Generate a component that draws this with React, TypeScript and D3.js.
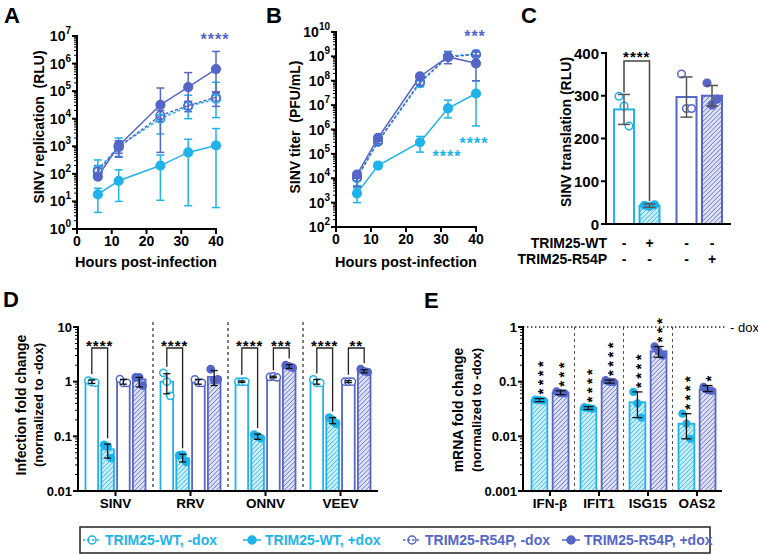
import React from 'react';
import * as d3 from 'd3';

const LIGHT = '#1FB3EA';
const DARK = '#5566C8';
const FONT = "'Liberation Sans', Arial, Helvetica, sans-serif";

// ---------- Panels A & B: time course ----------
const hours = [6, 12, 24, 32, 40];
const xTicks = [0, 10, 20, 30, 40];
const legendLabels = ['TRIM25-WT, -dox', 'TRIM25-WT, +dox', 'TRIM25-R54P, -dox', 'TRIM25-R54P, +dox'];

// A: SINV replication (RLU)
const aWTminus = [140, 1000, 10000, 28000, 52000];
const aWTminusLo = [71, 430, 2800, 10000, 11000];
const aWTminusHi = [320, 2000, 35000, 71000, 210000];
const aWTplus = [18, 56, 200, 600, 1070];
const aWTplusLo = [4, 10, 11, 7, 6];
const aWTplusHi = [30, 140, 480, 1800, 4400];
const aR54Pminus = [120, 930, 13000, 30000, 60000];
const aR54PminusLo = [90, 400, 8000, 18000, 28000];
const aR54PminusHi = [200, 1400, 20000, 42000, 89000];
const aR54Pplus = [80, 1050, 32000, 140000, 630000];
const aR54PplusLo = [63, 560, 600, 42000, 95000];
const aR54PplusHi = [110, 1600, 130000, 470000, 2750000];

// B: SINV titer (PFU/mL)
const bWTminus = [10000, 320000, 8e7, 1e9, 1.25e9];
const bWTminusLo = [5000, 250000, 5.6e7, 7e8, 1e9];
const bWTminusHi = [16000, 400000, 1e8, 1.25e9, 1.6e9];
const bWTplus = [2400, 33000, 300000, 7.4e6, 3e7];
const bWTplusLo = [1000, 26000, 118000, 3e6, 1.4e6];
const bWTplusHi = [4000, 45000, 520000, 1.6e7, 1e8];
const bR54Pminus = [11000, 320000, 9e7, 9.5e8, 1.2e9];
const bR54PminusLo = [4500, 260000, 6.5e7, 7e8, 1e9];
const bR54PminusHi = [16000, 400000, 1.1e8, 1.3e9, 1.5e9];
const bR54Pplus = [14000, 450000, 1.5e8, 9.5e8, 5.2e8];
const bR54PplusLo = [10000, 350000, 1.1e8, 5e8, 1e8];
const bR54PplusHi = [18000, 560000, 1.8e8, 1.6e9, 1.1e9];

// ---------- Panel C ----------
const cBars = [268, 43, 297, 300];
const cErr = [35, 4, 47, 24];
const cPts = [[299, 276, 229], [44, 41, 45], [351, 270, 270], [330, 278, 292]];
const cTicks = [0, 100, 200, 300, 400];
const cRowWT = ['-', '+', '-', '-'];
const cRowR54P = ['-', '-', '-', '+'];

// ---------- Panel D ----------
const dCats = ['SINV', 'RRV', 'ONNV', 'VEEV'];
const dWTminus = [1.0, 1.0, 1.0, 1.0];
const dWTminusLo = [0.93, 0.6, 0.97, 0.9];
const dWTminusHi = [1.07, 1.4, 1.03, 1.1];
const dWTplus = [0.058, 0.04, 0.098, 0.195];
const dWTplusLo = [0.04, 0.034, 0.088, 0.17];
const dWTplusHi = [0.072, 0.047, 0.11, 0.22];
const dR54Pminus = [1.0, 1.0, 1.22, 1.0];
const dR54PminusLo = [0.9, 0.9, 1.18, 0.96];
const dR54PminusHi = [1.1, 1.1, 1.26, 1.04];
const dR54Pplus = [1.1, 1.22, 1.9, 1.55];
const dR54PplusLo = [0.8, 0.85, 1.75, 1.45];
const dR54PplusHi = [1.2, 1.6, 2.05, 1.65];
const dPtsWTminus = [[1.05, 0.98, 0.96], [1.45, 1.0, 0.55], [1.0, 1.0, 1.0], [1.1, 0.95, 0.95]];
const dPtsWTplus = [[0.07, 0.065, 0.04], [0.045, 0.046, 0.034], [0.108, 0.1, 0.092], [0.22, 0.2, 0.17]];
const dPtsR54Pminus = [[1.12, 0.95, 0.95], [1.1, 0.95, 0.95], [1.22, 1.25, 1.2], [1.0, 1.0, 1.0]];
const dPtsR54Pplus = [[1.2, 1.2, 0.85], [1.7, 1.05, 1.1], [2.0, 1.9, 1.8], [1.7, 1.55, 1.5]];
const dSigCat = [0, 1, 2, 2, 3, 3];
const dSigA = [0, 0, 0, 2, 0, 2];
const dSigB = [1, 1, 1, 3, 1, 3];
const dSigLabel = ['****', '****', '****', '***', '****', '**'];

// ---------- Panel E ----------
const eCats = ['IFN-β', 'IFIT1', 'ISG15', 'OAS2'];
const eWT = [0.046, 0.033, 0.042, 0.017];
const eWTLo = [0.043, 0.031, 0.022, 0.009];
const eWTHi = [0.049, 0.035, 0.065, 0.026];
const eR54P = [0.063, 0.1, 0.36, 0.072];
const eR54PLo = [0.058, 0.094, 0.28, 0.066];
const eR54PHi = [0.068, 0.107, 0.44, 0.085];
const ePtsWT = [[0.047, 0.046, 0.045], [0.034, 0.033, 0.032], [0.065, 0.04, 0.022], [0.026, 0.017, 0.009]];
const ePtsR54P = [[0.066, 0.062, 0.061], [0.106, 0.1, 0.098], [0.44, 0.36, 0.3], [0.08, 0.07, 0.068]];
const eSigWT = ['****', '****', '****', '****'];
const eSigR54P = ['***', '****', '***', '*'];

const STYLE = [
  { color: LIGHT, filled: false, fill: '#fff' },
  { color: LIGHT, filled: true, fill: 'url(#hatchL)' },
  { color: DARK, filled: false, fill: '#fff' },
  { color: DARK, filled: true, fill: 'url(#hatchD)' },
];

function logTicks(lo: number, hi: number) {
  const major: number[] = [];
  const minor: number[] = [];
  const e0 = Math.round(Math.log10(lo));
  const e1 = Math.round(Math.log10(hi));
  for (let e = e0; e <= e1; e++) {
    major.push(e);
    if (e < e1) for (let k = 2; k <= 9; k++) minor.push(k * Math.pow(10, e));
  }
  return { major, minor };
}

function YAxisLog({ y, x, fmt }: any) {
  const [lo, hi] = y.domain();
  const { major, minor } = logTicks(lo, hi);
  const [r0, r1] = y.range();
  return (
    <g>
      <line x1={x} x2={x} y1={r0 + 1} y2={r1 - 1} stroke="#000" strokeWidth={2} />
      {minor.map((v: number) => (
        <line key={'m' + v} x1={x - 3} x2={x} y1={y(v)} y2={y(v)} stroke="#000" strokeWidth={1} />
      ))}
      {major.map((e: number) => (
        <g key={e}>
          <line x1={x - 5} x2={x} y1={y(Math.pow(10, e))} y2={y(Math.pow(10, e))} stroke="#000" strokeWidth={2} />
          {fmt(e, x - 6, y(Math.pow(10, e)))}
        </g>
      ))}
    </g>
  );
}

const supFmt = (e: number, tx: number, ty: number) => (
  <text x={tx} y={ty + 5} textAnchor="end" fontSize={14} fontWeight="bold">
    <tspan>10</tspan>
    <tspan dy={-7} fontSize={10}>{e}</tspan>
  </text>
);
const decFmt = (e: number, tx: number, ty: number) => (
  <text x={tx} y={ty + 4.5} textAnchor="end" fontSize={13} fontWeight="bold">
    {e >= 0 ? String(Math.pow(10, e)) : Math.pow(10, e).toFixed(-e)}
  </text>
);

function TimeCourse({ x, y, means, los, his }: any) {
  const line = d3.line<number>().x((_, i) => x(hours[i])).y((d) => y(d));
  const [y0] = y.range();
  return (
    <g>
      <line x1={x(0) - 1} x2={x(40) + 1} y1={y0} y2={y0} stroke="#000" strokeWidth={2} />
      {xTicks.map((t) => (
        <g key={t}>
          <line x1={x(t)} x2={x(t)} y1={y0} y2={y0 + 5} stroke="#000" strokeWidth={2} />
          <text x={x(t)} y={y0 + 17} textAnchor="middle" fontSize={14} fontWeight="bold">{t}</text>
        </g>
      ))}
      {means.map((m: number[], s: number) => (
        <path key={'l' + s} d={line(m) || ''} fill="none" stroke={STYLE[s].color} strokeWidth={1.5}
          strokeDasharray={STYLE[s].filled ? undefined : '3,2'} />
      ))}
      {means.map((m: number[], s: number) =>
        m.map((_, i) => {
          const cx = x(hours[i]);
          const yl = y(los[s][i]);
          const yh = y(his[s][i]);
          return (
            <g key={'e' + s + i} stroke={STYLE[s].color} strokeWidth={1.5}>
              <line x1={cx} x2={cx} y1={yl} y2={yh} />
              <line x1={cx - 4} x2={cx + 4} y1={yl} y2={yl} />
              <line x1={cx - 4} x2={cx + 4} y1={yh} y2={yh} />
            </g>
          );
        })
      )}
      {means.map((m: number[], s: number) =>
        m.map((v, i) => (
          <circle key={'c' + s + i} cx={x(hours[i])} cy={y(v)} r={4.3}
            fill={STYLE[s].filled ? STYLE[s].color : 'none'} stroke={STYLE[s].color} strokeWidth={1.6} />
        ))
      )}
    </g>
  );
}

function Stars({ x, y, label, color, size = 15 }: any) {
  return (
    <text x={x} y={y + size * 0.56} textAnchor="middle" fontSize={size} fontWeight="bold" fill={color} letterSpacing={1}>
      {label}
    </text>
  );
}

// vertical stack of stars, read bottom-to-top, bottom at yBottom, centred on x
function StarStack({ x, yBottom, label, size = 15 }: any) {
  return (
    <text transform={`translate(${x + size * 0.56},${yBottom}) rotate(-90)`} fontSize={size} fontWeight="bold"
      letterSpacing={3.4} fill="#000">
      {label}
    </text>
  );
}

export default function App() {
  // A
  const ax = d3.scaleLinear().domain([0, 40]).range([77, 216]);
  const ay = d3.scaleLog().domain([1, 1e7]).range([229, 36]);
  // B
  const bx = d3.scaleLinear().domain([0, 40]).range([336, 476]);
  const by = d3.scaleLog().domain([1e2, 1e10]).range([227, 32]);
  // C
  const cy = d3.scaleLinear().domain([0, 400]).range([224, 53]);
  const cSlot = (i: number) => i + (i >= 2 ? 0.45 : 0);
  const cx = d3.scaleLinear().domain([0, cSlot(3)]).range([624, 712]);
  const cbw = 20;
  // D
  const dx0 = d3.scaleBand<string>().domain(dCats).range([78, 378]);
  const dx1 = d3.scaleBand<number>().domain([0, 1, 2, 3]).range([7.5, 67.5]).paddingInner(0.2);
  const dy = d3.scaleLog().domain([0.01, 10]).range([491, 327]);
  const dMeans = [dWTminus, dWTplus, dR54Pminus, dR54Pplus];
  const dLos = [dWTminusLo, dWTplusLo, dR54PminusLo, dR54PplusLo];
  const dHis = [dWTminusHi, dWTplusHi, dR54PminusHi, dR54PplusHi];
  const dPts = [dPtsWTminus, dPtsWTplus, dPtsR54Pminus, dPtsR54Pplus];
  // E
  const ex0 = d3.scaleBand<string>().domain(eCats).range([525.5, 721.5]);
  const ex1 = d3.scaleBand<number>().domain([0, 1]).range([6, 43]).paddingInner(0.25);
  const ey = d3.scaleLog().domain([0.001, 1]).range([491, 327]);
  const eMeans = [eWT, eR54P];
  const eLos = [eWTLo, eR54PLo];
  const eHis = [eWTHi, eR54PHi];
  const ePts = [ePtsWT, ePtsR54P];
  const eSig = [eSigWT, eSigR54P];
  const eStyle = [STYLE[1], STYLE[3]];

  const dBarX = (ci: number, s: number) => (dx0(dCats[ci]) as number) + (dx1(s) as number);
  const dCenter = (ci: number, s: number) => dBarX(ci, s) + dx1.bandwidth() / 2;
  const dTop = (ci: number, s: number) => dy(Math.max(dHis[s][ci], ...dPts[s][ci]));

  const legendSym = [92, 252, 412, 571];

  return (
    <svg width={758} height={555} viewBox="0 0 758 555" fontFamily={FONT}
      style={{ position: 'absolute', left: 0, top: 0, background: '#fff' }}>
      <defs>
        <pattern id="hatchL" patternUnits="userSpaceOnUse" width={3.2} height={3.2} patternTransform="rotate(45)">
          <rect width={3.2} height={3.2} fill={LIGHT} fillOpacity={0.22} />
          <line x1={0} y1={0} x2={0} y2={3.2} stroke={LIGHT} strokeWidth={1.3} />
        </pattern>
        <pattern id="hatchD" patternUnits="userSpaceOnUse" width={3.2} height={3.2} patternTransform="rotate(45)">
          <rect width={3.2} height={3.2} fill={DARK} fillOpacity={0.18} />
          <line x1={0} y1={0} x2={0} y2={3.2} stroke={DARK} strokeWidth={1.3} />
        </pattern>
      </defs>
      <rect width={758} height={555} fill="#fff" />

      {/* Panel letters */}
      {[['A', 4, 23], ['B', 266, 23], ['C', 521, 23], ['D', 3, 307], ['E', 424, 308]].map(([t, x, y]) => (
        <text key={t as string} x={x as number} y={y as number} fontSize={22} fontWeight="bold">{t}</text>
      ))}

      {/* ===== Panel A ===== */}
      <YAxisLog y={ay} x={77} fmt={supFmt} />
      <TimeCourse x={ax} y={ay}
        means={[aWTminus, aWTplus, aR54Pminus, aR54Pplus]}
        los={[aWTminusLo, aWTplusLo, aR54PminusLo, aR54PplusLo]}
        his={[aWTminusHi, aWTplusHi, aR54PminusHi, aR54PplusHi]} />
      <text transform="translate(39,127) rotate(-90)" textAnchor="middle" dominantBaseline="central" fontSize={14} fontWeight="bold" xmlSpace="preserve">SINV replication  (RLU)</text>
      <text x={146} y={267} textAnchor="middle" fontSize={14.5} fontWeight="bold">Hours post-infection</text>
      <Stars x={215} y={36} label="****" color={DARK} size={16} />

      {/* ===== Panel B ===== */}
      <YAxisLog y={by} x={336} fmt={supFmt} />
      <TimeCourse x={bx} y={by}
        means={[bWTminus, bWTplus, bR54Pminus, bR54Pplus]}
        los={[bWTminusLo, bWTplusLo, bR54PminusLo, bR54PplusLo]}
        his={[bWTminusHi, bWTplusHi, bR54PminusHi, bR54PplusHi]} />
      <text transform="translate(295,127) rotate(-90)" textAnchor="middle" dominantBaseline="central" fontSize={14} fontWeight="bold" xmlSpace="preserve">SINV titer  (PFU/mL)</text>
      <text x={406} y={267} textAnchor="middle" fontSize={14.5} fontWeight="bold">Hours post-infection</text>
      <Stars x={475} y={33} label="***" color={DARK} size={16} />
      <Stars x={474} y={140} label="****" color={LIGHT} size={16} />
      <Stars x={447} y={153} label="****" color={LIGHT} size={16} />

      {/* ===== Panel C ===== */}
      {cBars.map((v, i) => {
        const c = cx(cSlot(i));
        const st = STYLE[i];
        return (
          <g key={'cb' + i}>
            <rect x={c - cbw / 2} y={cy(v)} width={cbw} height={cy(0) - cy(v)} fill={st.fill} stroke={st.color} strokeWidth={2} />
            {cPts[i].map((p, j) => (
              <circle key={j} cx={c + (j - 1) * 5} cy={cy(p)} r={3.8} fill={st.filled ? st.color : '#fff'} stroke={st.color} strokeWidth={1.5} />
            ))}
            <g stroke="#555" strokeWidth={1.5}>
              <line x1={c} x2={c} y1={cy(v - cErr[i])} y2={cy(v + cErr[i])} />
              <line x1={c - 6} x2={c + 6} y1={cy(v - cErr[i])} y2={cy(v - cErr[i])} />
              <line x1={c - 6} x2={c + 6} y1={cy(v + cErr[i])} y2={cy(v + cErr[i])} />
            </g>
            <text x={c} y={248} textAnchor="middle" fontSize={14} fontWeight="bold">{cRowWT[i]}</text>
            <text x={c} y={264} textAnchor="middle" fontSize={14} fontWeight="bold">{cRowR54P[i]}</text>
          </g>
        );
      })}
      <line x1={606} x2={606} y1={cy(0) + 1} y2={cy(400) - 1} stroke="#000" strokeWidth={2} />
      <line x1={605} x2={731} y1={cy(0)} y2={cy(0)} stroke="#000" strokeWidth={2} />
      {cTicks.map((t) => (
        <g key={'ct' + t}>
          <line x1={601} x2={606} y1={cy(t)} y2={cy(t)} stroke="#000" strokeWidth={2} />
          <text x={599} y={cy(t) + 5.5} textAnchor="end" fontSize={15} fontWeight="bold">{t}</text>
        </g>
      ))}
      <path d={`M${cx(0)},${cy(cBars[0] + cErr[0]) - 2}V61H${cx(1)}V${cy(cBars[1] + cErr[1]) - 3}`} fill="none" stroke="#444" strokeWidth={1.5} />
      <Stars x={(cx(0) + cx(1)) / 2} y={54} label="****" color="#000" size={15} />
      <text x={607} y={248} textAnchor="end" fontSize={14} fontWeight="bold">TRIM25-WT</text>
      <text x={607} y={264} textAnchor="end" fontSize={14} fontWeight="bold">TRIM25-R54P</text>
      <text transform="translate(566,132) rotate(-90)" textAnchor="middle" dominantBaseline="central" fontSize={14} fontWeight="bold">SINV translation (RLU)</text>

      {/* ===== Panel D ===== */}
      {dCats.map((cat, ci) =>
        [0, 1, 2, 3].map((s) => {
          const x0 = dBarX(ci, s);
          const c = dCenter(ci, s);
          const v = dMeans[s][ci];
          const st = STYLE[s];
          return (
            <g key={'d' + ci + s}>
              <rect x={x0} y={dy(v)} width={dx1.bandwidth()} height={dy(0.01) - dy(v)} fill={st.fill} stroke={st.color} strokeWidth={1.8} />
              {dPts[s][ci].map((p, j) => (
                <circle key={j} cx={c + (j - 1) * 3.5} cy={dy(p)} r={3.6} fill={st.filled ? st.color : '#fff'} stroke={st.color} strokeWidth={1.5} />
              ))}
              <g stroke="#111" strokeWidth={1.3}>
                <line x1={c} x2={c} y1={dy(dLos[s][ci])} y2={dy(dHis[s][ci])} />
                <line x1={c - 3.5} x2={c + 3.5} y1={dy(dLos[s][ci])} y2={dy(dLos[s][ci])} />
                <line x1={c - 3.5} x2={c + 3.5} y1={dy(dHis[s][ci])} y2={dy(dHis[s][ci])} />
              </g>
            </g>
          );
        })
      )}
      {dCats.slice(1).map((cat) => (
        <line key={'dv' + cat} x1={dx0(cat)} x2={dx0(cat)} y1={322} y2={491} stroke="#000" strokeWidth={1} strokeDasharray="3,3" />
      ))}
      <YAxisLog y={dy} x={78} fmt={decFmt} />
      <line x1={77} x2={378} y1={491} y2={491} stroke="#000" strokeWidth={2} />
      {dCats.map((cat) => {
        const c = (dx0(cat) as number) + dx0.bandwidth() / 2;
        return (
          <g key={'dl' + cat}>
            <line x1={c} x2={c} y1={491} y2={496} stroke="#000" strokeWidth={2} />
            <text x={c} y={508} textAnchor="middle" fontSize={13.5} fontWeight="bold">{cat}</text>
          </g>
        );
      })}
      {dSigCat.map((ci, k) => {
        const xa = dCenter(ci, dSigA[k]);
        const xb = dCenter(ci, dSigB[k]);
        return (
          <g key={'ds' + k}>
            <path d={`M${xa},${dTop(ci, dSigA[k]) - 6}V348H${xb}V${dTop(ci, dSigB[k]) - 6}`} fill="none" stroke="#222" strokeWidth={1.3} />
            <Stars x={(xa + xb) / 2} y={343} label={dSigLabel[k]} color="#000" size={15} />
          </g>
        );
      })}
      <text transform="translate(21,405) rotate(-90)" textAnchor="middle" dominantBaseline="central" fontSize={14} fontWeight="bold">Infection fold change</text>
      <text transform="translate(38,405) rotate(-90)" textAnchor="middle" dominantBaseline="central" fontSize={13} fontWeight="bold">(normalized to -dox)</text>

      {/* ===== Panel E ===== */}
      {eCats.map((cat, ci) =>
        [0, 1].map((s) => {
          const x0 = (ex0(cat) as number) + (ex1(s) as number);
          const c = x0 + ex1.bandwidth() / 2;
          const v = eMeans[s][ci];
          const st = eStyle[s];
          const yh = ey(eHis[s][ci]);
          const yl = ey(eLos[s][ci]);
          return (
            <g key={'e' + ci + s}>
              <rect x={x0} y={ey(v)} width={ex1.bandwidth()} height={ey(0.001) - ey(v)} fill={st.fill} stroke={st.color} strokeWidth={1.8} />
              {ePts[s][ci].map((p, j) => (
                <circle key={j} cx={c + (j - 1) * 4} cy={ey(p)} r={3.6} fill={st.color} stroke={st.color} strokeWidth={1.2} />
              ))}
              <g stroke="#111" strokeWidth={1.3}>
                <line x1={c} x2={c} y1={yl} y2={yh} />
                <line x1={c - 5} x2={c + 5} y1={yl} y2={yl} />
                <line x1={c - 5} x2={c + 5} y1={yh} y2={yh} />
              </g>
              <StarStack x={c} yBottom={yh - 4} label={eSig[s][ci]} size={15} />
            </g>
          );
        })
      )}
      {eCats.slice(1).map((cat) => (
        <line key={'ev' + cat} x1={ex0(cat)} x2={ex0(cat)} y1={327} y2={491} stroke="#555" strokeWidth={1} strokeDasharray="3,3" />
      ))}
      <line x1={523} x2={727} y1={ey(1)} y2={ey(1)} stroke="#222" strokeWidth={1.4} strokeDasharray="1.4,2.6" />
      <text x={730} y={ey(1) + 4.5} fontSize={13}>- dox</text>
      <YAxisLog y={ey} x={523} fmt={decFmt} />
      <line x1={522} x2={722} y1={491} y2={491} stroke="#000" strokeWidth={2} />
      {eCats.map((cat) => {
        const c = (ex0(cat) as number) + ex0.bandwidth() / 2;
        return (
          <g key={'el' + cat}>
            <line x1={c} x2={c} y1={491} y2={496} stroke="#000" strokeWidth={2} />
            <text x={c} y={508} textAnchor="middle" fontSize={13.5} fontWeight="bold">{cat}</text>
          </g>
        );
      })}
      <text transform="translate(458,410) rotate(-90)" textAnchor="middle" dominantBaseline="central" fontSize={14} fontWeight="bold">mRNA fold change</text>
      <text transform="translate(476,410) rotate(-90)" textAnchor="middle" dominantBaseline="central" fontSize={13} fontWeight="bold">(normalized to -dox)</text>

      {/* ===== Legend ===== */}
      <rect x={80} y={527} width={630} height={26} fill="#fff" stroke="#222" strokeWidth={1.5} />
      {legendLabels.map((lab, i) => {
        const sx = legendSym[i];
        const st = STYLE[i];
        return (
          <g key={'lg' + i}>
            <line x1={sx - 9} x2={sx + 9} y1={540} y2={540} stroke={st.color} strokeWidth={1.5} strokeDasharray={st.filled ? undefined : '2.5,2'} />
            <circle cx={sx} cy={540} r={4} fill={st.filled ? st.color : 'none'} stroke={st.color} strokeWidth={1.5} />
            <text x={sx + 13} y={545} fontSize={14} fontWeight="bold" fill={st.color}>{lab}</text>
          </g>
        );
      })}
    </svg>
  );
}
